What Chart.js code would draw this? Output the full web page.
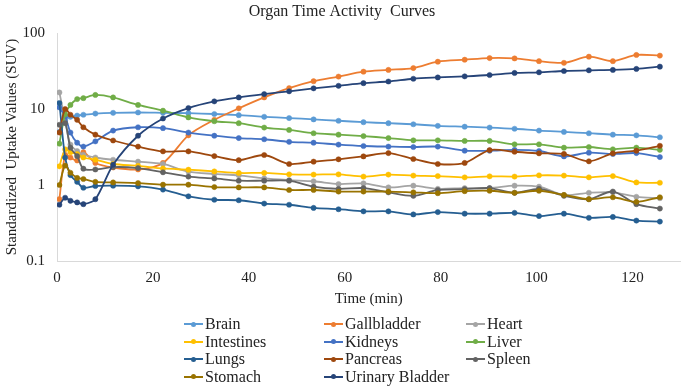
<!DOCTYPE html>
<html><head><meta charset="utf-8">
<script src="https://cdn.jsdelivr.net/npm/chart.js@4.4.1/dist/chart.umd.min.js"></script>
<style>
html,body{margin:0;padding:0;background:#fff;}
#wrap{position:relative;width:685px;height:387px;overflow:hidden;background:#fff;}
#c{position:absolute;left:0;top:0;}
.lg{position:absolute;display:flex;align-items:center;font-family:"Liberation Serif","Times New Roman",serif;font-size:16px;color:#222;white-space:nowrap;line-height:18px;height:18px;}
.sw{position:relative;width:19px;height:2px;margin-right:2px;}
.sw i{position:absolute;left:7px;top:-1.5px;width:5px;height:5px;border-radius:50%;}
</style></head><body>
<div id="wrap"><canvas id="c" width="685" height="387"></canvas><div id="legend"></div></div>
<script>
// ---- data ----
const times = [0.5, 1.7, 2.8, 4.2, 5.5, 8, 11.7, 16.9, 22.1, 27.4, 32.8, 37.9, 43.2, 48.4, 53.5, 58.7, 63.9, 69.1, 74.3, 79.4, 85, 90.2, 95.4, 100.5, 105.7, 110.9, 115.9, 120.8, 125.7];
const brain = [5.0, 7.3, 7.9, 8.2, 8.4, 8.7, 8.9, 9.0, 8.9, 8.8, 8.6, 8.3, 7.9, 7.6, 7.3, 7.0, 6.7, 6.5, 6.3, 6.0, 5.85, 5.7, 5.5, 5.2, 5.0, 4.8, 4.6, 4.5, 4.25];
const gallbladder = [0.65, 2.5, 2.3, 2.1, 2.7, 1.95, 1.7, 1.6, 1.95, 4.5, 7.2, 10.2, 14.2, 18.8, 23.2, 26.7, 31, 32.7, 34.6, 41.9, 44.5, 46.8, 46.3, 42.6, 40.5, 48.8, 42.6, 51.4, 50.4];
const heart = [16.5, 7.0, 3.4, 2.8, 2.5, 2.3, 2.15, 2.03, 1.89, 1.5, 1.4, 1.34, 1.22, 1.16, 1.12, 1.03, 1.05, 0.93, 0.98, 0.89, 0.91, 0.91, 0.98, 0.95, 0.74, 0.79, 0.80, 0.70, 0.67];
const intestines = [1.76, 2.95, 2.7, 2.55, 2.3, 2.15, 1.89, 1.79, 1.65, 1.59, 1.51, 1.44, 1.44, 1.38, 1.37, 1.38, 1.29, 1.37, 1.33, 1.31, 1.26, 1.30, 1.29, 1.34, 1.33, 1.26, 1.31, 1.08, 1.07];
const kidneys = [10.5, 8.0, 4.9, 3.6, 3.2, 3.75, 5.2, 5.75, 5.6, 4.9, 4.45, 4.15, 4.0, 3.7, 3.6, 3.4, 3.26, 3.2, 3.16, 3.2, 2.83, 2.83, 2.9, 2.8, 2.38, 2.66, 2.56, 2.63, 2.33];
const liver = [3.5, 8.5, 11.3, 13.5, 13.9, 15.3, 14.2, 11.3, 9.5, 7.75, 6.9, 6.5, 5.7, 5.3, 4.8, 4.6, 4.4, 4.15, 3.87, 3.87, 3.8, 3.8, 3.43, 3.43, 3.1, 3.16, 2.95, 3.1, 2.9];
const lungs = [12, 2.3, 1.35, 1.1, 0.92, 0.97, 0.98, 0.96, 0.87, 0.71, 0.64, 0.63, 0.57, 0.55, 0.50, 0.48, 0.45, 0.45, 0.41, 0.44, 0.42, 0.42, 0.43, 0.39, 0.42, 0.37, 0.38, 0.34, 0.33];
const pancreas = [4.9, 10, 8.4, 7.2, 5.75, 4.6, 3.85, 3.2, 2.77, 2.77, 2.4, 2.12, 2.48, 1.89, 2.03, 2.18, 2.38, 2.63, 2.2, 1.89, 1.95, 2.88, 2.74, 2.61, 2.56, 2.05, 2.61, 2.83, 3.28];
const spleen = [6.2, 6.5, 3.1, 2.4, 1.64, 1.6, 1.72, 1.67, 1.47, 1.29, 1.22, 1.14, 1.14, 1.14, 0.95, 0.89, 0.91, 0.80, 0.72, 0.86, 0.88, 0.91, 0.79, 0.89, 0.72, 0.65, 0.82, 0.56, 0.49];
const stomach = [1.0, 1.8, 1.45, 1.24, 1.2, 1.1, 1.08, 1.06, 1.01, 1.01, 0.94, 0.93, 0.93, 0.86, 0.86, 0.82, 0.82, 0.82, 0.80, 0.78, 0.83, 0.84, 0.79, 0.84, 0.74, 0.65, 0.69, 0.60, 0.69];
const urinaryBladder = [0.55, 0.68, 0.62, 0.59, 0.56, 0.65, 1.85, 4.45, 7.5, 10.3, 12.6, 14.2, 15.7, 17.1, 18.7, 20.2, 21.9, 23.0, 25.0, 26.0, 26.9, 28.0, 29.8, 30.4, 31.6, 32.3, 32.7, 33.7, 36.1];

const seriesNames = ["Brain", "Gallbladder", "Heart", "Intestines", "Kidneys", "Liver", "Lungs", "Pancreas", "Spleen", "Stomach", "Urinary Bladder"];
const seriesValues = [brain, gallbladder, heart, intestines, kidneys, liver, lungs, pancreas, spleen, stomach, urinaryBladder];
const seriesColors = ["#5B9BD5", "#ED7D31", "#A5A5A5", "#FFC000", "#4472C4", "#70AD47", "#255E91", "#9E480E", "#636363", "#997300", "#264478"];

const xTicks = [0, 20, 40, 60, 80, 100, 120];
const yTicks = [0.1, 1, 10, 100];
const yTickLabels = ["0.1", "1", "10", "100"];
const chartTitle = "Organ Time Activity  Curves";
const xTitle = "Time (min)";
const yTitle = "Standardized  Uptake Values (SUV)";

// ---- chart ----
const FONT = '"Liberation Serif", "Times New Roman", serif';
const TXT = '#222';

const datasets = seriesNames.map((name, i) => ({
  label: name,
  data: times.map((t, j) => ({x: t, y: seriesValues[i][j]})),
  borderColor: seriesColors[i],
  backgroundColor: seriesColors[i],
  pointBackgroundColor: seriesColors[i],
  pointBorderColor: seriesColors[i],
  borderWidth: 1.8,
  pointRadius: 2.6,
  pointBorderWidth: 0.5,
  tension: 0.3,
  fill: false,
  order: seriesNames.length - i
}));

new Chart(document.getElementById('c'), {
  type: 'line',
  data: {datasets},
  options: {
    responsive: false,
    animation: false,
    layout: {padding: {left: 0, right: 1, top: 0, bottom: 79}},
    plugins: {
      legend: {display: false},
      tooltip: {enabled: false},
      title: {display: true, text: chartTitle, color: TXT,
              font: {family: FONT, size: 16, weight: 'normal', lineHeight: 1.2},
              padding: {top: 2, bottom: 11.8}}
    },
    scales: {
      x: {
        type: 'linear', min: 0, max: 130,
        afterBuildTicks: s => { s.ticks = xTicks.map(v => ({value: v})); },
        afterFit: s => { s.height = 47; },
        grid: {display: true, drawOnChartArea: false, drawTicks: false},
        border: {display: true, color: '#D9D9D9', width: 1},
        ticks: {font: {family: FONT, size: 15}, color: TXT, padding: 8, maxRotation: 0, autoSkip: false,
                callback: v => String(v)},
        title: {display: true, text: xTitle, color: TXT, font: {family: FONT, size: 15, lineHeight: 1.2}, padding: {top: 0, bottom: 0}}
      },
      y: {
        type: 'logarithmic', min: 0.1, max: 100,
        afterBuildTicks: s => { s.ticks = yTicks.map(v => ({value: v})); },
        afterFit: s => { s.width = 57; },
        grid: {display: true, drawOnChartArea: false, drawTicks: false},
        border: {display: true, color: '#D9D9D9', width: 1},
        ticks: {font: {family: FONT, size: 15}, color: TXT, padding: 12, autoSkip: false,
                callback: (v, i) => yTickLabels[i]},
        title: {display: true, text: yTitle, color: TXT, font: {family: FONT, size: 15, lineHeight: 1.2}, padding: {top: 3, bottom: 0}}
      }
    }
  }
});

// ---- legend (3 columns, built from the series arrays) ----
const legendCols = [184, 324, 466];
const legend = document.getElementById('legend');
seriesNames.forEach((name, i) => {
  const d = document.createElement('div');
  d.className = 'lg';
  d.style.left = legendCols[i % 3] + 'px';
  d.style.top = (315 + Math.floor(i / 3) * 17.5) + 'px';
  const sw = document.createElement('span');
  sw.className = 'sw';
  sw.style.background = seriesColors[i];
  const dot = document.createElement('i');
  dot.style.background = seriesColors[i];
  sw.appendChild(dot);
  d.appendChild(sw);
  d.appendChild(document.createTextNode(name));
  legend.appendChild(d);
});
</script>
</body></html>
